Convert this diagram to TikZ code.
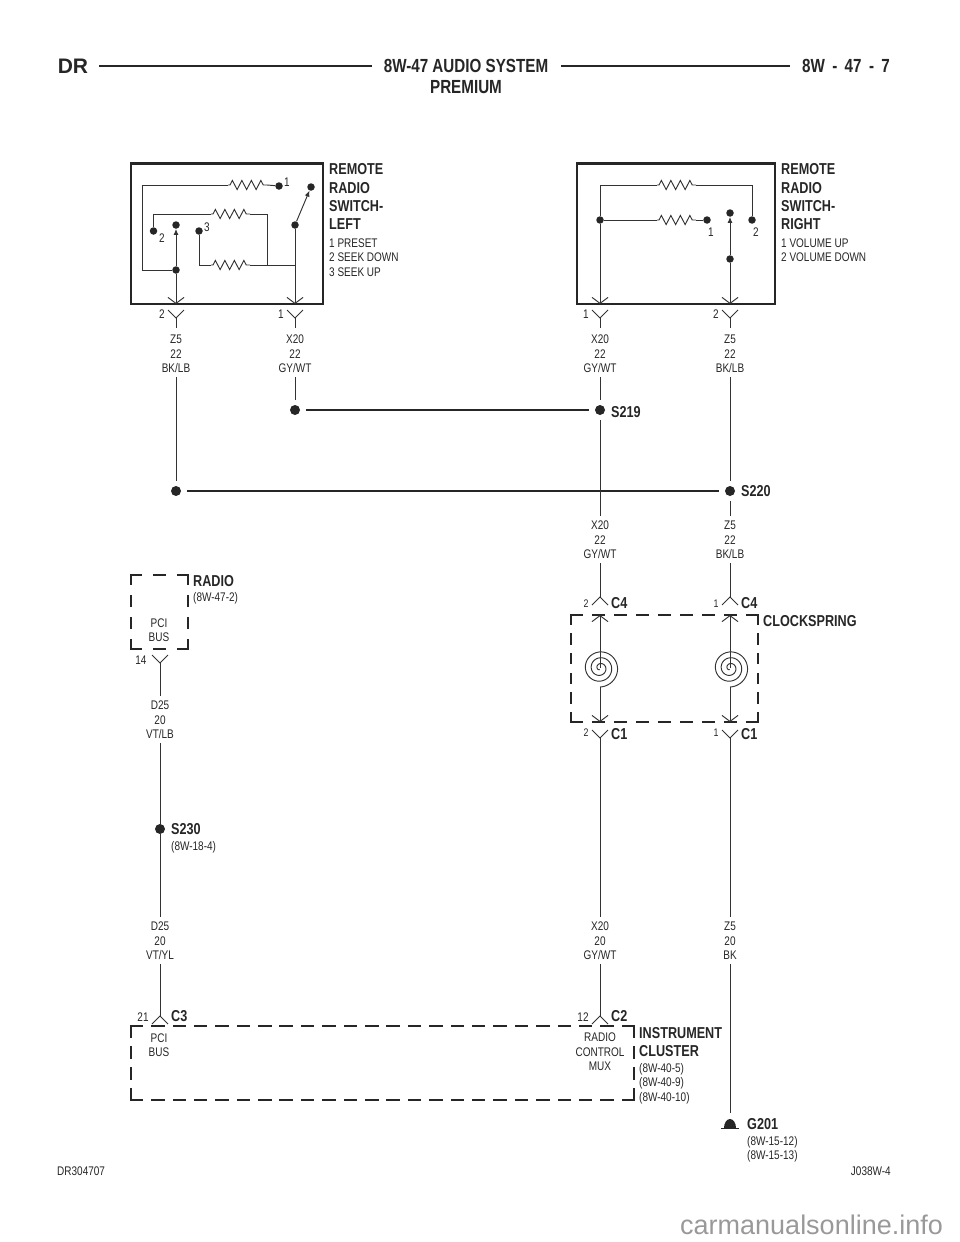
\documentclass[tikz,border=0pt]{standalone}
\usepackage{fontspec}
\setmainfont[FakeStretch=0.8]{Liberation Sans}
\newfontfamily\wmfont{Liberation Sans}
\usetikzlibrary{arrows.meta,decorations.pathmorphing}

\tikzset{
	wire/.style={line width=.95pt,color=black!80},
	res/.style={decorate,decoration={zigzag,amplitude=4.5pt,segment length=9.5pt,pre length=2pt,post length=2pt}},
	barb/.style={-{Straight Barb[length=6pt,width=16pt,line width=.95pt]}},
	sharp/.style={-{Latex[length=6pt,width=5pt]}},
	bus/.style={line width=2.6pt,color=black!85},
	frame/.style={line width=2.4pt,color=black!85},
	dashbox/.style 2 args={line width=2.5pt,line cap=rect,color=black!85,dash pattern=on #1pt off #2pt},
	dot/.style={circle,fill=black!85,inner sep=0pt,minimum size=7.5pt},
	splice/.style={circle,fill=black!85,inner sep=0pt,minimum size=10pt},
	txt/.style={inner sep=0pt,align=center,font=\fontsize{12.5}{14.4}\selectfont,color=black!85},
	txtl/.style={txt,align=left,anchor=west},
	bold/.style={inner sep=0pt,align=left,anchor=west,font=\fontsize{15.8}{18.3}\selectfont\bfseries,color=black!85},
	head/.style={inner sep=0pt,align=center,font=\fontsize{19}{21}\selectfont\bfseries,color=black!85},
	pics/ypin/.style={code={\draw[wire] (-8,-8) -- (0,0) -- (8,-8);}},
	pics/apin/.style={code={\draw[wire] (-8,8) -- (0,0) -- (8,8);}},
	pics/coil/.style={code={\draw[wire] plot[smooth,samples=160,domain=100:1170] ({.01624*\x*cos(\x)},{.01624*\x*sin(\x)});}},
}

\begin{document}
\begin{tikzpicture}[x=1pt,y=-1pt]
	\useasboundingbox (0,0) rectangle (960,1242);

	% header
	\node[head,font=\wmfont\fontsize{21}{21}\selectfont\bfseries] (dr) at (73,66) {DR};
	\node[head] (title) at (466,66) {8W-47 AUDIO SYSTEM};
	\node[head] (premium) at (466,87) {PREMIUM};
	\node[head] (page) at (846,66) {8W\ \,-\ \,47\ \,-\ \,7};
	\draw[frame] ([xshift=11pt]dr.east) -- ([xshift=-12pt]title.west);
	\draw[frame] ([xshift=13pt]title.east) -- ([xshift=-12pt]page.west);

	% left switch
	\draw[frame] (131,163.5) rectangle (323,304);
	\node[bold,anchor=north west] (leftname) at (329,163.5) {REMOTE\\RADIO\\SWITCH-\\LEFT};
	\node[txtl,anchor=north west] (leftlist) at (329,238.5) {1 PRESET\\2 SEEK DOWN\\3 SEEK UP};
	\node[dot] (l1) at (279,186) {};
	\node[dot] (l2) at (153.5,231) {};
	\node[dot] (l3) at (199,231) {};
	\node[dot] (lc) at (176,225) {};
	\node[dot] (lj) at (176,270) {};
	\node[dot] (lp) at (295,225) {};
	\node[dot] (lt) at (311,187) {};
	\node[txt] (l1t) at (287,182) {1};
	\node[txt] (l2t) at (162,238) {2};
	\node[txt] (l3t) at (207,227) {3};
	\coordinate (lpin2) at (176,304);
	\coordinate (lpin1) at (295,304);
	\coordinate (ra) at (228,185);
	\coordinate (rb) at (267,185);
	\coordinate (rc) at (211,214);
	\coordinate (rd) at (250,214);
	\coordinate (re) at (211,265);
	\coordinate (rf) at (250,265);
	\draw[wire] (lj) -- (142,270) -- (142,185) -- (ra);
	\draw[wire,res] (ra) -- (rb);
	\draw[wire] (rb) -- (l1);
	\draw[wire] (l2) -- (153.5,214) -- (rc);
	\draw[wire,res] (rc) -- (rd);
	\draw[wire] (rd) -- (267,214) -- (267,265);
	\draw[wire] (l3) -- (199,265) -- (re);
	\draw[wire,res] (re) -- (rf);
	\draw[wire] (rf) -- (295,265);
	\draw[wire,barb] (lj) -- (lpin2);
	\draw[wire,sharp] (lj) -- (lc);
	\draw[wire,barb] (lp) -- (lpin1);
	\draw[wire,sharp] (lp) -- (lt);

	% right switch
	\draw[frame] (577,163.5) rectangle (775,304);
	\node[bold,anchor=north west] (rightname) at (781,163.5) {REMOTE\\RADIO\\SWITCH-\\RIGHT};
	\node[txtl,anchor=north west] (rightlist) at (781,238.5) {1 VOLUME UP\\2 VOLUME DOWN};
	\node[dot] (r1) at (707,220) {};
	\node[dot] (r2) at (752,220) {};
	\node[dot] (rj) at (600,220) {};
	\node[dot] (rt) at (730,213) {};
	\node[dot] (rk) at (730,259) {};
	\node[txt] (r1t) at (711,232) {1};
	\node[txt] (r2t) at (756,232) {2};
	\coordinate (rpin1) at (600,304);
	\coordinate (rpin2) at (730,304);
	\coordinate (sa) at (657,185);
	\coordinate (sb) at (696,185);
	\coordinate (sc) at (657,220);
	\coordinate (sd) at (696,220);
	\draw[wire] (rj) -- (600,185) -- (sa);
	\draw[wire,res] (sa) -- (sb);
	\draw[wire] (sb) -- (752,185) -- (r2);
	\draw[wire] (rj) -- (sc);
	\draw[wire,res] (sc) -- (sd);
	\draw[wire] (sd) -- (r1);
	\draw[wire,barb] (rj) -- (rpin1);
	\draw[wire,barb] (rk) -- (rpin2);
	\draw[wire,sharp] (rk) -- (rt);

	% pins under the switches
	\foreach \px/\num in {176/2,295/1,600/1,730/2} {
		\path (\px,318) pic {ypin};
		\node[txt] (top\px) at (\px-14,314) {\num};
		\draw[wire] (\px,318) -- (\px,328);
	}
	\node[txt] (w1) at (176,354) {Z5\\22\\BK/LB};
	\node[txt] (w2) at (295,354) {X20\\22\\GY/WT};
	\node[txt] (w3) at (600,354) {X20\\22\\GY/WT};
	\node[txt] (w4) at (730,354) {Z5\\22\\BK/LB};

	% splices
	\node[splice] (e1) at (295,410) {};
	\node[splice] (s219) at (600,410) {};
	\node[splice] (e2) at (176,491) {};
	\node[splice] (s220) at (730,491) {};
	\node[bold] (s219t) at (611,412) {S219};
	\node[bold] (s220t) at (741,491) {S220};
	\draw[bus] ([xshift=6pt]e1.east) -- ([xshift=-6pt]s219.west);
	\draw[bus] ([xshift=6pt]e2.east) -- ([xshift=-6pt]s220.west);
	\draw[wire] ([yshift=-4pt]w1.south) -- ([yshift=5pt]e2.north);
	\draw[wire] ([yshift=-4pt]w2.south) -- ([yshift=5pt]e1.north);
	\draw[wire] ([yshift=-4pt]w3.south) -- ([yshift=5pt]s219.north);
	\draw[wire] ([yshift=-4pt]w4.south) -- ([yshift=5pt]s220.north);

	\node[txt] (w5) at (600,540) {X20\\22\\GY/WT};
	\node[txt] (w6) at (730,540) {Z5\\22\\BK/LB};
	\draw[wire] ([yshift=-5pt]s219.south) -- ([yshift=5pt]w5.north);
	\draw[wire] ([yshift=-5pt]s220.south) -- ([yshift=5pt]w6.north);

	% clockspring
	\draw[dashbox={11}{11}] (571,615) -- (758,615);
	\draw[dashbox={11}{11}] (571,722) -- (758,722);
	\draw[dashbox={9}{10.6}] (571,615) -- (571,722);
	\draw[dashbox={9}{10.6}] (758,615) -- (758,722);
	\node[bold] (cs) at (763,621) {CLOCKSPRING};
	\foreach \px/\num in {600/2,730/1} {
		\coordinate (cin\px) at (\px,668);
		\coordinate (cout\px) at (\px,687);
		\draw[wire] ([yshift=-4pt]w5.south -| cin\px) -- (\px,597);
		\path (\px,597) pic {apin};
		\draw[wire,barb] (cin\px) -- (\px,615);
		\path (cin\px) pic {coil};
		\draw[wire,barb] (cout\px) -- (\px,722);
		\path (\px,738) pic {ypin};
		\node[txt,font=\fontsize{11}{13}\selectfont] (ct\px) at (\px-14,604) {\num};
		\node[txt,font=\fontsize{11}{13}\selectfont] (cb\px) at (\px-14,733) {\num};
		\node[bold] (cfour\px) at (\px+11,603) {C4};
		\node[bold] (cone\px) at (\px+11,734) {C1};
	}

	% radio
	\draw[dashbox={10}{13.5}] (131,575) -- (188,575);
	\draw[dashbox={10}{13.5}] (131,649) -- (188,649);
	\draw[dashbox={9}{12.67}] (131,575) -- (131,649);
	\draw[dashbox={9}{12.67}] (188,575) -- (188,649);
	\node[bold] (radio) at (193,581) {RADIO};
	\node[txtl] (radiopage) at (193,598) {(8W-47-2)};
	\node[txt] (pci1) at (159,630) {PCI\\BUS};
	\path (160,663) pic {ypin};
	\node[txt] (n14) at (141,660) {14};
	\node[txt] (w7) at (160,720) {D25\\20\\VT/LB};
	\draw[wire] (160,663) -- ([yshift=5pt]w7.north);
	\node[splice] (s230) at (160,829) {};
	\node[bold] (s230t) at (171,829) {S230};
	\node[txtl] (s230p) at (171,847) {(8W-18-4)};
	\draw[wire] ([yshift=-4pt]w7.south) -- (s230);
	\node[txt] (w8) at (160,941) {D25\\20\\VT/YL};
	\draw[wire] (s230) -- ([yshift=5pt]w8.north);

	% lower labels
	\node[txt] (w9) at (600,941) {X20\\20\\GY/WT};
	\node[txt] (w10) at (730,941) {Z5\\20\\BK};
	\draw[wire] (600,738) -- ([yshift=5pt]w9.north);
	\draw[wire] (730,738) -- ([yshift=5pt]w10.north);

	% cluster
	\draw[dashbox={11}{10.39}] (131,1026) -- (634,1026);
	\draw[dashbox={11}{10.39}] (131,1100) -- (634,1100);
	\draw[dashbox={11}{10}] (131,1026) -- (131,1100);
	\draw[dashbox={11}{10}] (634,1026) -- (634,1100);
	\draw[wire] ([yshift=-4pt]w8.south) -- (160,1016);
	\draw[wire] ([yshift=-4pt]w9.south) -- (600,1016);
	\foreach \px/\num/\cn in {160/21/C3,600/12/C2} {
		\path (\px,1016) pic {apin};
		\node[txt] (cl\px) at (\px-17,1017) {\num};
		\node[bold] (cn\px) at (\px+11,1016) {\cn};
	}
	\node[txt] (pci2) at (159,1045) {PCI\\BUS};
	\node[txt] (mux) at (600,1052) {RADIO\\CONTROL\\MUX};
	\node[bold,anchor=north west] (cluster) at (639,1027) {INSTRUMENT\\CLUSTER};
	\node[txtl,anchor=north west] (clusterp) at (639,1063) {(8W-40-5)\\(8W-40-9)\\(8W-40-10)};

	% ground
	\coordinate (gnd) at (730,1113);
	\draw[wire] ([yshift=-4pt]w10.south) -- (gnd);
	\fill[black!85] (724,1128) arc (180:360:6 and 9) -- cycle;
	\draw[line width=1.8pt,color=black!85] (721,1128.5) -- (739,1128.5);
	\node[bold] (g201) at (747,1124) {G201};
	\node[txtl,anchor=north west] (g201p) at (747,1136) {(8W-15-12)\\(8W-15-13)};

	% footer
	\node[txtl] (dr3) at (57,1171) {DR304707};
	\node[txt,anchor=east] (j03) at (891,1171) {J038W-4};
	\node[inner sep=0pt,anchor=west,font=\wmfont\fontsize{27}{28}\selectfont,color=black!40] (wm) at (680,1225) {carmanualsonline.info};
\end{tikzpicture}
\end{document}
